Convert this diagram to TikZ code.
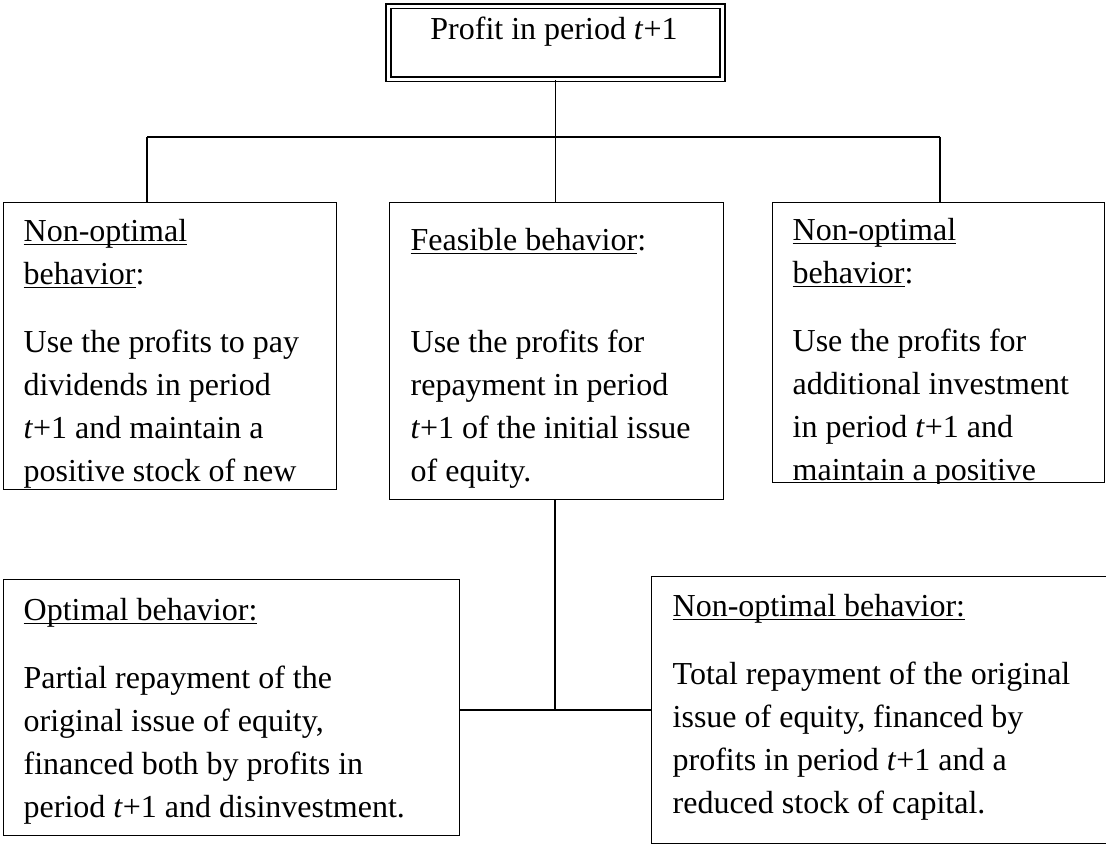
\documentclass[tikz,border=0pt]{standalone}
\usepackage{fontspec}
\setmainfont{Liberation Serif}
\newcommand{\boxfont}{\fontsize{16}{21.5}\selectfont}
\newcommand{\tnext}{\textit{t}+1}
\newcommand{\uln}[1]{\leavevmode\setbox0=\hbox{#1}\rlap{\rule[-1.8pt]{\wd0}{0.7pt}}\box0}
\begin{document}
\begin{tikzpicture}[x=0.5pt,y=-0.5pt,line width=0.65pt,
        boxtext/.style={anchor=north west,align=left,inner sep=0pt,font=\boxfont}]
        \useasboundingbox (0,0) rectangle (1106,844);
        \begin{scope}[every node/.style={draw,rectangle,anchor=north west,inner sep=0pt}]
            \node (topbox) [double,double distance=1.6pt,line width=0.8pt,minimum width=167pt,minimum height=36.5pt] at (387.5,5.5) {};
            \node (lbox) [minimum width=166.5pt,minimum height=143.5pt] at (3,202) {};
            \node (mbox) [minimum width=167pt,minimum height=148.5pt] at (389,202) {};
            \node (rbox) [minimum width=166pt,minimum height=140pt] at (772,202) {};
            \node (blbox) [minimum width=228pt,minimum height=128pt] at (3,579) {};
            \node (brbox) [minimum width=229.5pt,minimum height=133.5pt] at (651,576) {};
        \end{scope}
        \node (toptext) [boxtext,anchor=north] at (554,16) {Profit in period \tnext};
        \begin{scope}
            \clip (lbox.north west) rectangle (lbox.south east);
            \node (ltext) [boxtext] at (23,219) {\uln{Non-optimal}\\ \uln{behavior}:\\[12.5pt]
                Use the profits to pay\\ dividends in period\\ \tnext{} and maintain a\\ positive stock of new};
        \end{scope}
        \node (mtext) [boxtext] at (410,228) {\uln{Feasible behavior}:\\[29.5pt]
            Use the profits for\\ repayment in period\\ \tnext{} of the initial issue\\ of equity.};
        \begin{scope}
            \clip (rbox.north west) rectangle (rbox.south east);
            \node (rtext) [boxtext] at (792,218) {\uln{Non-optimal}\\ \uln{behavior}:\\[12.5pt]
                Use the profits for\\ additional investment\\ in period \tnext{} and\\ maintain a positive};
        \end{scope}
        \node (bltext) [boxtext] at (23,598) {\uln{Optimal behavior:}\\[12.5pt]
            Partial repayment of the\\ original issue of equity,\\ financed both by profits in\\ period \tnext{} and disinvestment.};
        \node (brtext) [boxtext] at (672,594) {\uln{Non-optimal behavior:}\\[12.5pt]
            Total repayment of the original\\ issue of equity, financed by\\ profits in period \tnext{} and a\\ reduced stock of capital.};
        % connectors
        \coordinate (lhang) at (147,137);
        \coordinate (rhang) at (940,137);
        \coordinate (join) at (555,710);
        \begin{scope}[every edge/.style={draw,line width=0.65pt}]
            \path
                (topbox.south) edge (topbox.south |- mbox.north)
                (lhang) edge (rhang)
                (lhang) edge (lhang |- lbox.north)
                (rhang) edge (rhang |- rbox.north)
                (join |- mbox.south) edge (join)
                (blbox.east |- join) edge (brbox.west |- join);
        \end{scope}
    \end{tikzpicture}
\end{document}
